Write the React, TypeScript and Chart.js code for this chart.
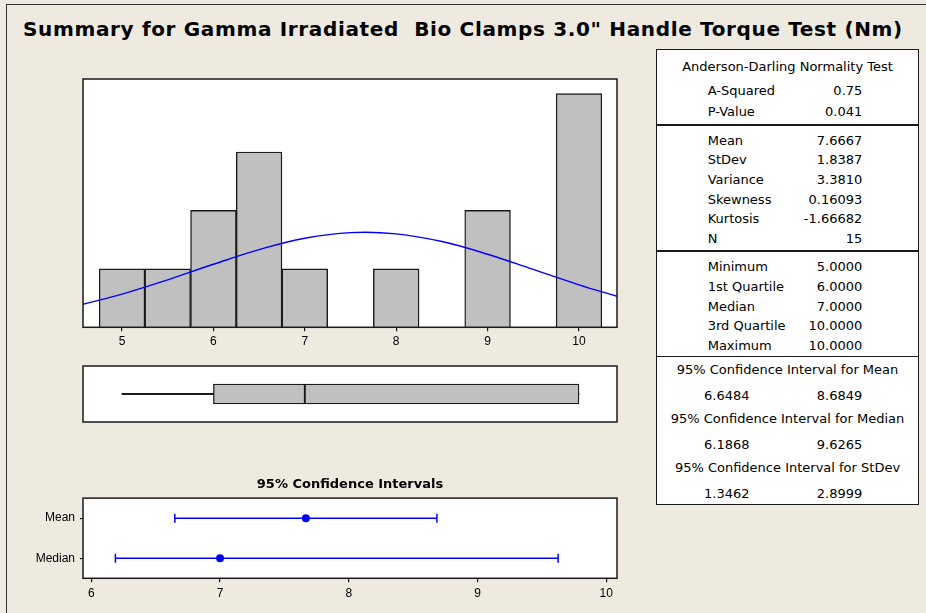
import React, { useEffect, useRef } from 'react';
import { Chart, registerables } from 'chart.js';
Chart.register(...registerables);

// ---------- data ----------
const titleText = 'Summary for Gamma Irradiated  Bio Clamps 3.0" Handle Torque Test (Nm)';

// histogram
const binCenters = [5, 5.5, 6, 6.5, 7, 7.5, 8, 8.5, 9, 9.5, 10];
const binCounts = [1, 1, 2, 3, 1, 0, 1, 0, 2, 0, 4];
const histTicks = [5, 6, 7, 8, 9, 10];
const histRange = [4.573, 10.416];
const histYMax = 4.25;
// fitted normal curve (count scale)
const curveX = [4.573, 5, 5.5, 6, 6.5, 7, 7.5, 8, 8.5, 9, 9.5, 10, 10.416];
const curveY = [0.395, 0.568, 0.813, 1.079, 1.33, 1.524, 1.62, 1.6, 1.468, 1.251, 0.99, 0.727, 0.532];

// boxplot: min, Q1, median, Q3, max
const boxValues = [5, 6, 7, 10, 10];

// confidence intervals
const ciTitle = '95% Confidence Intervals';
const ciRows = ['Mean', 'Median'];
const ciLower = [6.6484, 6.1868];
const ciEstimate = [7.6667, 7.0];
const ciUpper = [8.6849, 9.6265];
const ciTicks = [6, 7, 8, 9, 10];
const ciRange = [5.935, 10.084];

// statistics table
const adTitle = 'Anderson-Darling Normality Test';
const adLabels = ['A-Squared', 'P-Value'];
const adValues = ['0.75', '0.041'];
const momentLabels = ['Mean', 'StDev', 'Variance', 'Skewness', 'Kurtosis', 'N'];
const momentValues = ['7.6667', '1.8387', '3.3810', '0.16093', '-1.66682', '15'];
const quartileLabels = ['Minimum', '1st Quartile', 'Median', '3rd Quartile', 'Maximum'];
const quartileValues = ['5.0000', '6.0000', '7.0000', '10.0000', '10.0000'];
const intervalTitles = [
  '95% Confidence Interval for Mean',
  '95% Confidence Interval for Median',
  '95% Confidence Interval for StDev',
];
const intervalLows = ['6.6484', '6.1868', '1.3462'];
const intervalHighs = ['8.6849', '9.6265', '2.8999'];

// ---------- styling ----------
const BG = '#EEEAE0';
const INK = '#1a1a1a';
const BLUE = '#0000FF';
const GREY = '#C0C0C0';
const TICK_FONT = { family: "'Liberation Sans', Arial, sans-serif", size: 12 };
const TABLE_FONT = "'DejaVu Sans', Verdana, sans-serif";

const plotFrame = {
  id: 'plotFrame',
  beforeDraw(chart: any) {
    const { ctx, chartArea: a } = chart;
    ctx.save();
    ctx.fillStyle = '#ffffff';
    ctx.fillRect(a.left, a.top, a.right - a.left, a.bottom - a.top);
    ctx.restore();
  },
  afterDraw(chart: any) {
    const { ctx, chartArea: a } = chart;
    ctx.save();
    ctx.strokeStyle = INK;
    ctx.lineWidth = 1.5;
    ctx.strokeRect(a.left, a.top, a.right - a.left, a.bottom - a.top);
    ctx.restore();
  },
};

function tickAxis(min: number, max: number, ticks: number[], tickLength: number, pad: number) {
  return {
    type: 'linear',
    min,
    max,
    offset: false,
    afterBuildTicks: (axis: any) => {
      axis.ticks = ticks.map((v) => ({ value: v }));
    },
    grid: { display: true, offset: false, drawOnChartArea: false, drawTicks: true, tickLength, color: INK, lineWidth: 1.2 },
    border: { display: false },
    ticks: { color: '#000', font: TICK_FONT, padding: pad, maxRotation: 0, autoSkip: false },
  };
}

export default function App() {
  const histRef = useRef<HTMLCanvasElement | null>(null);
  const boxRef = useRef<HTMLCanvasElement | null>(null);
  const ciRef = useRef<HTMLCanvasElement | null>(null);

  useEffect(() => {
    const charts: Chart[] = [];

    // Histogram with normal curve
    charts.push(
      new Chart(histRef.current as HTMLCanvasElement, {
        type: 'bar',
        data: {
          datasets: [
            {
              type: 'line',
              data: curveX.map((x, i) => ({ x, y: curveY[i] })),
              borderColor: BLUE,
              borderWidth: 1.4,
              pointRadius: 0,
              tension: 0.4,
              fill: false,
            } as any,
            {
              type: 'bar',
              data: binCenters.map((x, i) => ({ x, y: binCounts[i] })),
              backgroundColor: GREY,
              borderColor: INK,
              borderWidth: 1.4,
              borderSkipped: 'start',
              categoryPercentage: 1,
              barPercentage: 1,
            } as any,
          ],
        },
        options: {
          animation: false,
          responsive: false,
          devicePixelRatio: 1,
          events: [],
          layout: { padding: { left: 10, right: 10, top: 10, bottom: 4.3 } },
          plugins: { legend: { display: false }, tooltip: { enabled: false }, title: { display: false } },
          scales: {
            x: tickAxis(histRange[0], histRange[1], histTicks, 4, 3) as any,
            y: { type: 'linear', min: 0, max: histYMax, display: false },
          },
        },
        plugins: [plotFrame],
      } as any)
    );

    // Boxplot
    charts.push(
      new Chart(boxRef.current as HTMLCanvasElement, {
        type: 'bar',
        data: {
          labels: [''],
          datasets: [
            {
              data: [[boxValues[0], boxValues[1]]],
              backgroundColor: INK,
              borderWidth: 0,
              barThickness: 1.5,
              grouped: false,
            },
            {
              data: [[boxValues[3], boxValues[4]]],
              backgroundColor: INK,
              borderWidth: 0,
              barThickness: 1.5,
              grouped: false,
            },
            {
              data: [[boxValues[1], boxValues[2]]],
              backgroundColor: GREY,
              borderColor: INK,
              borderWidth: 1.3,
              borderSkipped: false,
              barThickness: 20,
              grouped: false,
            },
            {
              data: [[boxValues[2], boxValues[3]]],
              backgroundColor: GREY,
              borderColor: INK,
              borderWidth: 1.3,
              borderSkipped: false,
              barThickness: 20,
              grouped: false,
            },
          ] as any,
        },
        options: {
          indexAxis: 'y',
          animation: false,
          responsive: false,
          devicePixelRatio: 1,
          events: [],
          layout: { padding: 10 },
          plugins: { legend: { display: false }, tooltip: { enabled: false } },
          scales: {
            x: { type: 'linear', min: histRange[0], max: histRange[1], display: false, offset: false },
            y: { type: 'category', display: false, offset: true },
          },
        },
        plugins: [plotFrame],
      } as any)
    );

    // Confidence intervals
    const intervalSets = ciRows.map((r, i) => ({
      data: [
        { x: ciLower[i], y: r },
        { x: ciUpper[i], y: r },
      ],
      showLine: true,
      borderColor: BLUE,
      borderWidth: 1.5,
      pointStyle: 'line',
      pointRotation: 90,
      pointRadius: 4.5,
      pointBorderColor: BLUE,
      pointBorderWidth: 1.5,
      pointBackgroundColor: BLUE,
    }));
    charts.push(
      new Chart(ciRef.current as HTMLCanvasElement, {
        type: 'scatter',
        data: {
          datasets: [
            {
              data: ciRows.map((r, i) => ({ x: ciEstimate[i], y: r })),
              pointRadius: 4,
              pointStyle: 'circle',
              backgroundColor: BLUE,
              borderColor: BLUE,
              borderWidth: 0,
            },
            ...intervalSets,
          ] as any,
        },
        options: {
          animation: false,
          responsive: false,
          devicePixelRatio: 1,
          events: [],
          layout: { padding: { left: 10, right: 10, top: 7, bottom: 4.3 } },
          plugins: {
            legend: { display: false },
            tooltip: { enabled: false },
            title: {
              display: true,
              text: ciTitle,
              fullSize: false,
              color: '#000',
              font: { family: "'DejaVu Sans', Verdana, sans-serif", size: 13, weight: 'bold' },
              padding: { top: 0, bottom: 5.5 },
            },
          },
          scales: {
            x: tickAxis(ciRange[0], ciRange[1], ciTicks, 4, 4) as any,
            y: {
              type: 'category',
              labels: ciRows,
              offset: true,
              afterFit: (s: any) => {
                s.width = 50;
              },
              grid: { display: true, drawOnChartArea: false, drawTicks: true, tickLength: 3, color: INK, lineWidth: 1.2, offset: false },
              border: { display: false },
              ticks: { color: '#000', font: TICK_FONT, padding: 5 },
            },
          },
        },
        plugins: [plotFrame],
      } as any)
    );

    return () => charts.forEach((c) => c.destroy());
  }, []);

  const abs = (extra: any) => ({ position: 'absolute' as const, ...extra });

  // table helpers (coordinates relative to table box at 656,49)
  const TX = 656;
  const TY = 49;
  const TW = 263;
  const TH = 456;
  const LINE = 16;
  const labelLeft = 707.7 - TX;
  const valueRight = TW - (862.3 - TX);
  const lowLeft = 704 - TX;
  const txt = (cy: number, content: string, style: any, key: string) => (
    <div
      key={key}
      style={abs({
        top: cy - TY - LINE / 2,
        height: LINE,
        lineHeight: LINE + 'px',
        whiteSpace: 'pre',
        ...style,
      })}
    >
      {content}
    </div>
  );

  const rows: any[] = [];
  rows.push(txt(66.7, adTitle, { left: 0, width: TW, textAlign: 'center' }, 'adt'));
  adLabels.forEach((l, i) => {
    const cy = 91 + i * 21.3;
    rows.push(txt(cy, l, { left: labelLeft }, 'adl' + i));
    rows.push(txt(cy, adValues[i], { right: valueRight, textAlign: 'right' }, 'adv' + i));
  });
  momentLabels.forEach((l, i) => {
    const cy = 140.7 + i * 19.66;
    rows.push(txt(cy, l, { left: labelLeft }, 'ml' + i));
    rows.push(txt(cy, momentValues[i], { right: valueRight, textAlign: 'right' }, 'mv' + i));
  });
  quartileLabels.forEach((l, i) => {
    const cy = 267.3 + i * 19.6;
    rows.push(txt(cy, l, { left: labelLeft }, 'ql' + i));
    rows.push(txt(cy, quartileValues[i], { right: valueRight, textAlign: 'right' }, 'qv' + i));
  });
  intervalTitles.forEach((t, i) => {
    const cy = 370 + i * 49.2;
    rows.push(txt(cy, t, { left: 0, width: TW, textAlign: 'center' }, 'it' + i));
    rows.push(txt(cy + 25.5, intervalLows[i], { left: lowLeft }, 'il' + i));
    rows.push(txt(cy + 25.5, intervalHighs[i], { right: valueRight, textAlign: 'right' }, 'ih' + i));
  });
  const seps = [125, 251, 356.7].map((y, i) => (
    <div key={'s' + i} style={abs({ left: 0, width: TW, top: y - TY - 0.75, height: 1.5, background: INK })} />
  ));

  return (
    <div
      style={abs({
        left: 0,
        top: 0,
        width: 926,
        height: 613,
        overflow: 'hidden',
        background: BG,
      })}
    >
      <div
        style={abs({
          left: 6,
          top: 4,
          width: 960,
          height: 660,
          borderLeft: '1.5px solid #333',
          borderTop: '1.5px solid #333',
        })}
      />
      <div
        style={abs({
          left: 23,
          top: 17,
          fontFamily: "'DejaVu Sans', Verdana, sans-serif",
          fontWeight: 'bold',
          fontSize: 20,
          lineHeight: '24px',
          letterSpacing: '0.65px',
          whiteSpace: 'pre',
          color: '#000',
        })}
      >
        {titleText}
      </div>

      <canvas ref={histRef} width={554} height={287} style={abs({ left: 73, top: 69, width: 554, height: 287 })} />
      <canvas ref={boxRef} width={554} height={76} style={abs({ left: 73, top: 356, width: 554, height: 76 })} />
      <canvas ref={ciRef} width={604} height={139} style={abs({ left: 23, top: 470, width: 604, height: 139 })} />

      <div
        style={abs({
          left: TX,
          top: TY,
          width: TW,
          height: TH,
          background: '#fff',
          fontFamily: TABLE_FONT,
          fontSize: 13,
          color: '#000',
        })}
      >
        {seps}
        {rows}
        <div style={abs({ left: 0, top: 0, width: TW, height: TH, boxSizing: 'border-box', border: '1.5px solid ' + INK })} />
      </div>
    </div>
  );
}
